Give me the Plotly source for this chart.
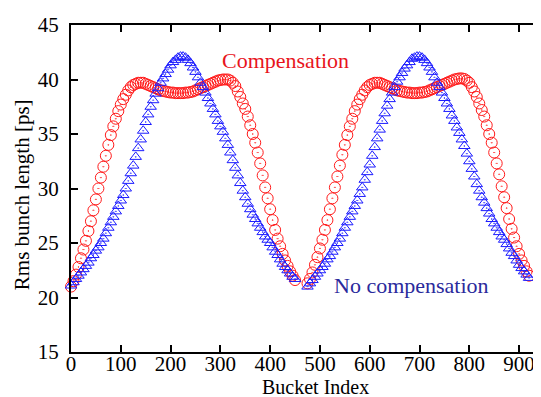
import plotly.graph_objects as go

# Bucket indices (step 5) for the two bunch trains
bucket_train1 = list(range(0, 451, 5))      # 91 buckets
bucket_train2 = list(range(475, 921, 5))    # 90 buckets

# Rms bunch length [ps] with harmonic-cavity compensation (red circles)
comp_train1 = [
    21.0, 21.5, 22.1, 22.8, 23.6, 24.4, 25.2, 26.1, 27.0, 28.0,
    29.0, 30.0, 31.0, 32.0, 33.0, 34.0, 34.9, 35.7, 36.4, 37.1,
    37.7, 38.2, 38.6, 39.0, 39.3, 39.5, 39.6, 39.7, 39.7, 39.7,
    39.6, 39.5, 39.4, 39.3, 39.2, 39.1, 39.0, 38.95, 38.9, 38.85,
    38.8, 38.8, 38.75, 38.75, 38.75, 38.75, 38.8, 38.8, 38.85, 38.9,
    39.0, 39.1, 39.2, 39.3, 39.4, 39.5, 39.6, 39.7, 39.8, 39.9,
    39.95, 40.0, 40.0, 40.0, 39.9, 39.7, 39.4, 38.9, 38.4, 37.8,
    37.3, 36.6, 35.8, 35.0, 34.2, 33.3, 32.3, 31.2, 30.1, 29.1,
    28.1, 27.1, 26.2, 25.4, 24.7, 24.0, 23.4, 22.9, 22.4, 22.0,
    21.6,
]
comp_train2 = [
    21.3, 21.7, 22.3, 23.0, 23.7, 24.5, 25.3, 26.2, 27.1, 28.1,
    29.1, 30.1, 31.1, 32.1, 33.1, 34.0, 34.9, 35.7, 36.4, 37.1,
    37.7, 38.2, 38.6, 39.0, 39.3, 39.5, 39.6, 39.7, 39.7, 39.7,
    39.6, 39.5, 39.4, 39.3, 39.2, 39.1, 39.0, 38.95, 38.9, 38.85,
    38.8, 38.8, 38.75, 38.75, 38.75, 38.8, 38.8, 38.85, 38.9, 39.0,
    39.1, 39.2, 39.3, 39.4, 39.5, 39.6, 39.7, 39.8, 39.9, 40.0,
    40.05, 40.1, 40.1, 40.05, 39.9, 39.7, 39.3, 38.9, 38.4, 37.8,
    37.2, 36.6, 35.8, 35.0, 34.2, 33.3, 32.3, 31.3, 30.2, 29.2,
    28.2, 27.2, 26.3, 25.5, 24.7, 24.0, 23.4, 22.9, 22.4, 22.0,
]

# Rms bunch length [ps] without compensation (blue triangles)
nocomp_train1 = [
    21.1, 21.4, 21.7, 22.0, 22.3, 22.6, 22.9, 23.2, 23.6, 23.9,
    24.3, 24.6, 25.0, 25.4, 25.9, 26.4, 26.9, 27.4, 27.9, 28.4,
    28.9, 29.4, 30.0, 30.7, 31.4, 32.1, 32.9, 33.7, 34.5, 35.3,
    36.1, 36.8, 37.5, 38.1, 38.7, 39.2, 39.7, 40.1, 40.5, 40.9,
    41.3, 41.6, 41.8, 42.0, 42.1, 42.1, 42.0, 41.8, 41.5, 41.1,
    40.7, 40.2, 39.7, 39.3, 38.8, 38.3, 37.8, 37.3, 36.8, 36.2,
    35.7, 35.2, 34.6, 34.0, 33.3, 32.6, 31.9, 31.2, 30.5, 29.8,
    29.2, 28.6, 28.1, 27.6, 27.2, 26.8, 26.4, 26.0, 25.6, 25.3,
    25.0, 24.6, 24.2, 23.9, 23.5, 23.1, 22.8, 22.5, 22.2, 21.9,
    21.7,
]
nocomp_train2 = [
    21.0, 21.3, 21.6, 21.9, 22.2, 22.5, 22.8, 23.1, 23.5, 23.8,
    24.2, 24.6, 25.0, 25.4, 25.9, 26.4, 26.9, 27.4, 27.9, 28.4,
    28.9, 29.5, 30.1, 30.8, 31.5, 32.2, 33.0, 33.8, 34.6, 35.4,
    36.2, 36.9, 37.6, 38.2, 38.8, 39.3, 39.8, 40.2, 40.6, 41.0,
    41.3, 41.6, 41.9, 42.0, 42.1, 42.1, 42.0, 41.8, 41.5, 41.1,
    40.7, 40.2, 39.7, 39.3, 38.8, 38.3, 37.8, 37.3, 36.7, 36.2,
    35.6, 35.1, 34.5, 33.9, 33.2, 32.5, 31.8, 31.1, 30.4, 29.8,
    29.2, 28.7, 28.2, 27.7, 27.2, 26.8, 26.4, 26.0, 25.6, 25.3,
    24.9, 24.5, 24.1, 23.8, 23.4, 23.0, 22.7, 22.4, 22.1, 21.8,
]

x_ticks = [0, 100, 200, 300, 400, 500, 600, 700, 800, 900]
y_ticks = [15, 20, 25, 30, 35, 40, 45]

FONT = "Liberation Serif"
RED = "#ff1a1a"
BLUE = "#1a1aff"

fig = go.Figure()
for xs, ys in ((bucket_train1, comp_train1), (bucket_train2, comp_train2)):
    fig.add_trace(go.Scatter(
        x=xs, y=ys, mode="markers", showlegend=False, cliponaxis=False,
        marker=dict(symbol="circle-open-dot", size=11, color=RED,
                    line=dict(color=RED, width=1)),
    ))
for xs, ys in ((bucket_train1, nocomp_train1), (bucket_train2, nocomp_train2)):
    fig.add_trace(go.Scatter(
        x=xs, y=ys, mode="markers", showlegend=False, cliponaxis=False,
        marker=dict(symbol="triangle-up-open-dot", size=10, color=BLUE,
                    line=dict(color=BLUE, width=1)),
    ))

fig.add_annotation(x=430, y=41.7, xref="x", yref="y", text="Compensation",
                   showarrow=False, font=dict(family=FONT, size=22, color="#e8141c"))
fig.add_annotation(x=683, y=21.1, xref="x", yref="y", text="No compensation",
                   showarrow=False, font=dict(family=FONT, size=22, color="#2a2a9c"))
# axis titles
fig.add_annotation(x=0.521, y=-0.108, xref="paper", yref="paper", text="Bucket Index",
                   showarrow=False, xanchor="center", yanchor="middle",
                   font=dict(family=FONT, size=20, color="black"))
fig.add_annotation(x=-0.104, y=0.48, xref="paper", yref="paper", text="Rms bunch length [ps]",
                   showarrow=False, xanchor="center", yanchor="middle", textangle=-90,
                   font=dict(family=FONT, size=21, color="black"))

axis_common = dict(
    showline=True, linecolor="black", linewidth=2, mirror="ticks",
    ticks="inside", ticklen=7, tickwidth=1.5, tickcolor="black",
    showgrid=False, zeroline=False, automargin=False,
    tickfont=dict(family=FONT, size=21, color="black"),
)
fig.update_xaxes(range=[0, 944], tickvals=x_ticks, ticklabelstandoff=-8, **axis_common)
fig.update_yaxes(range=[15, 45], tickvals=y_ticks, ticklabelstandoff=6, **axis_common)

# the page body adds an 8px offset; margins compensate so the plot area sits
# at the reference's pixel location
fig.update_layout(
    width=541, height=397,
    margin=dict(l=63, r=8, t=17, b=53),
    paper_bgcolor="white", plot_bgcolor="white",
)

fig.write_html("out.html")
